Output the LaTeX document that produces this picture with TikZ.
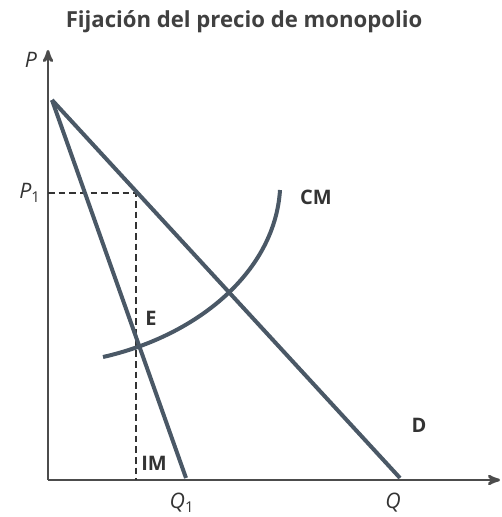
\documentclass[tikz,border=0pt]{standalone}
\usepackage{fontspec}
\setmainfont{Open Sans}
\usetikzlibrary{arrows}

\begin{document}
\begin{tikzpicture}[x=0.75pt,y=-0.75pt,>=stealth',
  axis/.style={->,line width=2pt,draw=black!70},
  curve/.style={line width=3pt,draw=curvecol},
  guide/.style={dashed,line width=1pt,draw=black!80,dash pattern=on 5pt off 3pt},
  lab/.style={font=\fontsize{15}{18}\selectfont\bfseries,text=black!80},
  axlab/.style={font=\fontsize{16}{18}\selectfont\itshape,text=black!80}]
\definecolor{curvecol}{HTML}{4A5866}
\useasboundingbox (0,0) rectangle (501,517);

\node[font=\fontsize{16.6}{19}\selectfont\bfseries,text=black!75] (title) at (244,22) {Fijación del precio de monopolio};

\coordinate (O) at (48,480);
\coordinate (ytop) at (48,50);
\coordinate (xend) at (500,480);
\coordinate (A) at (52,100);
\coordinate (Dend) at (400,478);
\coordinate (IMend) at (186,478);
\coordinate (P1pt) at (136,193);
\coordinate (P1ax) at (48,193);
\coordinate (Q1ax) at (136,480);

% axes
\draw[axis] (O) -- (ytop);
\draw[axis] (O) -- (xend);

% dashed guides
\draw[guide] (P1ax) -- (P1pt) -- (Q1ax);

% demand, marginal revenue, marginal cost
\draw[curve] (A) -- (Dend);
\draw[curve] (A) -- (IMend);
\draw[curve] (103,357) .. controls (200,335) and (275,270) .. (280,190);

\node[axlab] (P) at (31,60) {P};
\node[axlab] (P1) at (30,193) {P$_{\mathrm{1}}$};
\node[axlab] (Q1) at (182,503) {Q$_{\mathrm{1}}$};
\node[axlab] (Q) at (393,503) {Q};
\node[lab] (CM) at (316,197) {CM};
\node[lab] (E) at (151,318) {E};
\node[lab] (IM) at (154,463) {IM};
\node[lab] (D) at (419,425) {D};
\end{tikzpicture}
\end{document}
